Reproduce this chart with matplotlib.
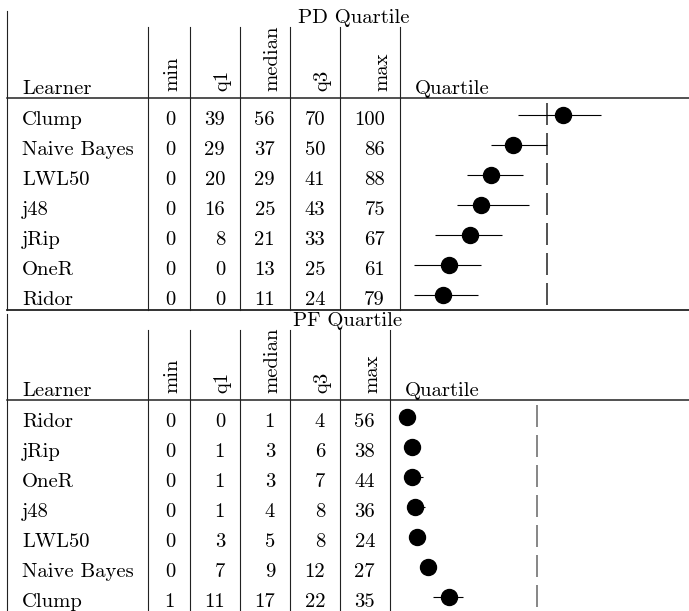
import matplotlib
matplotlib.use("Agg")
import matplotlib.pyplot as plt

# PD 表
pd_title = "PD Quartile"
pd_learners = ["Clump", "Naive Bayes", "LWL50", "j48", "jRip", "OneR", "Ridor"]
pd_min = [0, 0, 0, 0, 0, 0, 0]
pd_q1 = [39, 29, 20, 16, 8, 0, 0]
pd_median = [56, 37, 29, 25, 21, 13, 11]
pd_q3 = [70, 50, 41, 43, 33, 25, 24]
pd_max = [100, 86, 88, 75, 67, 61, 79]

# PF 表
pf_title = "PF Quartile"
pf_learners = ["Ridor", "jRip", "OneR", "j48", "LWL50", "Naive Bayes", "Clump"]
pf_min = [0, 0, 0, 0, 0, 0, 1]
pf_q1 = [0, 1, 1, 1, 3, 7, 11]
pf_median = [1, 3, 3, 4, 5, 9, 17]
pf_q3 = [4, 6, 7, 8, 8, 12, 22]
pf_max = [56, 38, 44, 36, 24, 27, 35]

col_names = ["min", "q1", "median", "q3", "max"]

W, H = 689, 611
FS = 14.9
LINE = "#222222"

plt.rcParams['font.family'] = ['cmr10', 'DejaVu Serif']
plt.rcParams['mathtext.fontset'] = 'cm'
plt.rcParams['axes.formatter.use_mathtext'] = True

fig = plt.figure(figsize=(W / 100, H / 100), dpi=100)
ax = fig.add_axes([0, 0, 1, 1])
ax.set_xlim(0, W)
ax.set_ylim(H, 0)
ax.axis("off")


def draw_table(title, title_x, top, rule, bottom, col_x, learners, cols, has_bottom_rule, dash_color):
    # 标题
    ax.text(title_x, top + 12, title, ha="center", va="baseline", fontsize=FS)
    # 左边框和列分隔线
    ax.plot([7, 7], [top, bottom], color=LINE, lw=0.8)
    for x in col_x:
        ax.plot([x, x], [top + 16, bottom], color=LINE, lw=0.8)
    ax.plot([7, W], [rule, rule], color=LINE, lw=1.1)
    if has_bottom_rule:
        ax.plot([7, W], [bottom, bottom], color=LINE, lw=1.3)

    # 表头
    ax.text(22, rule - 4, "Learner", ha="left", va="baseline", fontsize=FS)
    for name, right in zip(col_names, col_x[1:]):
        ax.text(right - 13, rule - 7, name, rotation=90, rotation_mode="anchor",
                ha="left", va="baseline", fontsize=FS)
    ax.text(col_x[-1] + 15, rule - 4, "Quartile", ha="left", va="baseline", fontsize=FS)

    # 数据行
    for i, name in enumerate(learners):
        y = rule + 27 + 30 * i
        ax.text(22, y, name, ha="left", va="baseline", fontsize=FS)
        for vals, right in zip(cols, col_x[1:]):
            ax.text(right - 15, y, str(vals[i]), ha="right", va="baseline", fontsize=FS)

    # 四分位图
    q1, med, q3 = cols[1], cols[2], cols[3]
    x0 = col_x[-1] + 14
    qa = fig.add_axes([x0 / W, 1 - (rule + 212) / H, 266.7 / W, 210 / H])
    qa.set_xlim(0, 100)
    qa.set_ylim(len(learners) - 0.5, -0.5)
    qa.axis("off")
    rows = list(range(len(learners)))
    qa.vlines([50] * len(rows), [r - 0.4 for r in rows], [r + 0.33 for r in rows],
              color=dash_color, lw=1.1)
    qa.hlines(rows, q1, q3, color="black", lw=0.8)
    qa.plot(med, rows, "o", color="black", markersize=11.5, clip_on=False)


draw_table(pd_title, 354, 11, 98, 310, [148, 190, 240, 290, 340, 400],
           pd_learners, [pd_min, pd_q1, pd_median, pd_q3, pd_max], True, LINE)
draw_table(pf_title, 348, 314, 400, H + 2, [148, 190, 240, 290, 340, 390],
           pf_learners, [pf_min, pf_q1, pf_median, pf_q3, pf_max], False, "#666666")

fig.savefig("out.png", dpi=100)
